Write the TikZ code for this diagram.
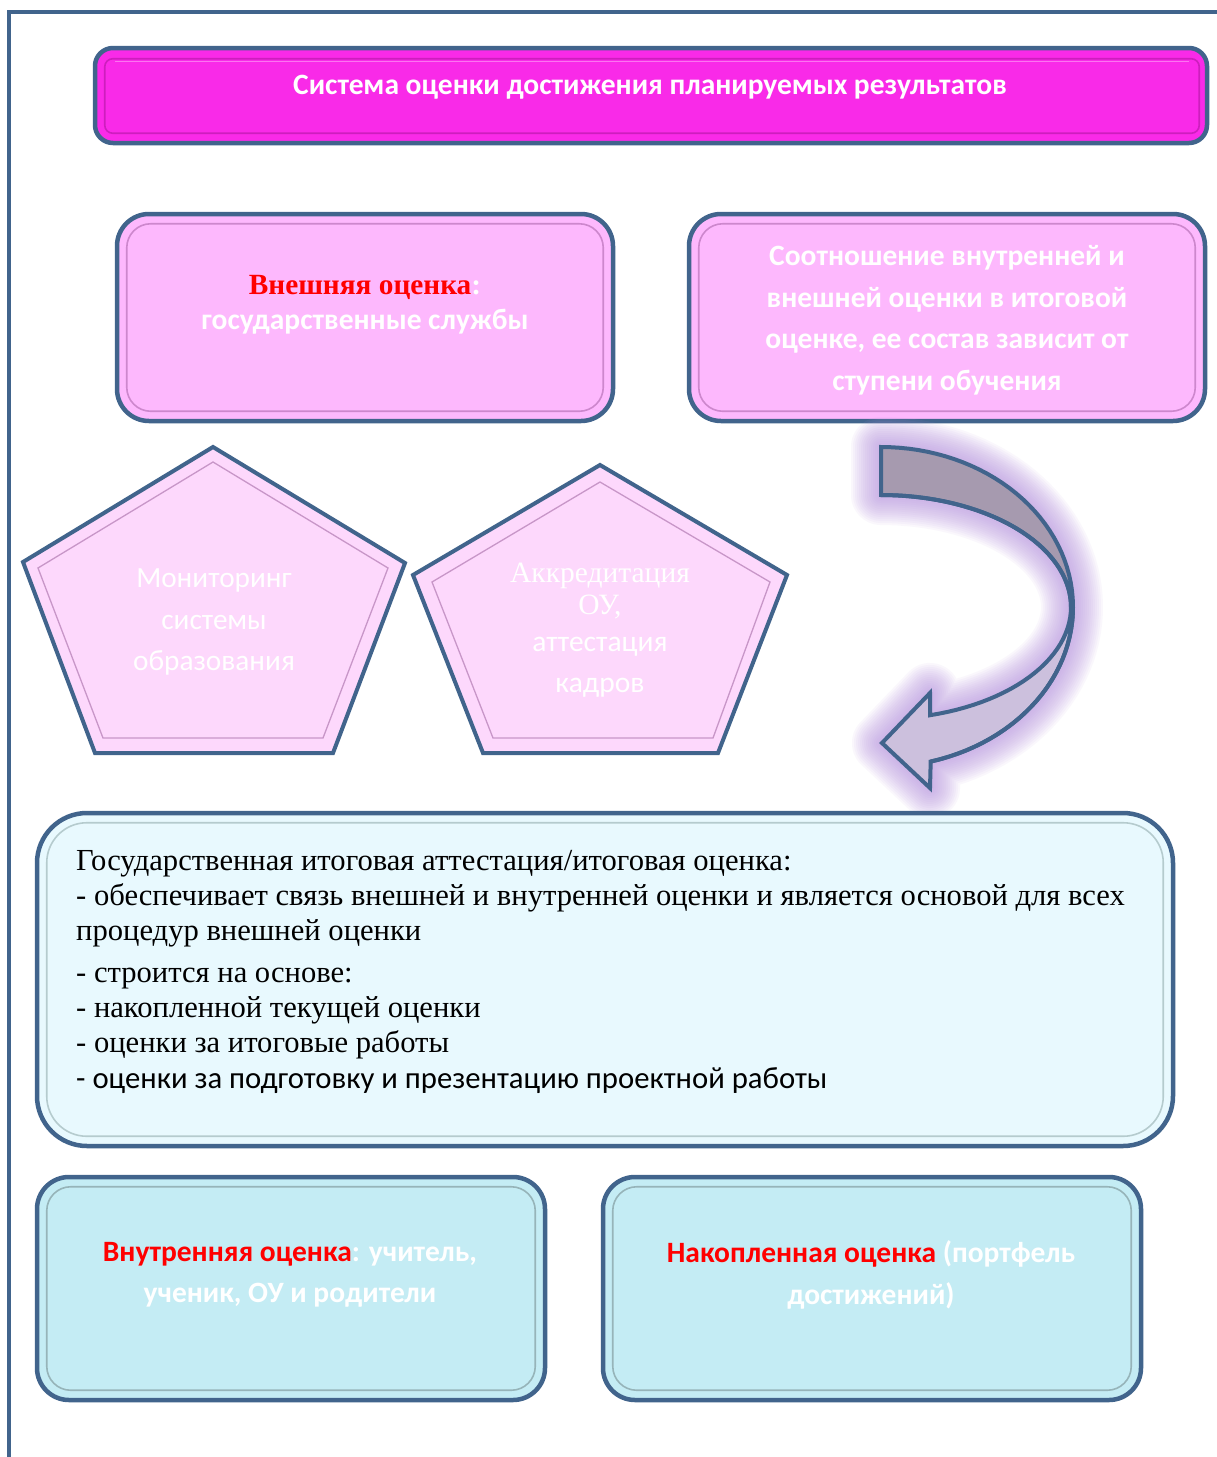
\documentclass[tikz,border=0pt]{standalone}
\usepackage{fontspec}
\setmainfont{Liberation Serif}
\newfontfamily\calfont{Carlito}
\newfontfamily\tmsfont{Liberation Serif}
\definecolor{frameblue}{RGB}{65,100,140}
\definecolor{magentabox}{RGB}{249,42,232}
\definecolor{magentadark}{RGB}{205,30,190}
\definecolor{pinkbox}{RGB}{253,184,253}
\definecolor{pinkdark}{RGB}{205,135,205}
\definecolor{pentfill}{RGB}{253,216,252}
\definecolor{pentdark}{RGB}{200,150,200}
\definecolor{lightcyan}{RGB}{232,249,254}
\definecolor{cyanbox}{RGB}{196,236,244}
\definecolor{cyandark}{RGB}{150,180,185}
\definecolor{arrowtop}{RGB}{166,154,175}
\definecolor{arrowbot}{RGB}{204,192,221}
\definecolor{glowc}{RGB}{185,150,225}
\definecolor{redtxt}{RGB}{255,0,0}
\begin{document}
\begin{tikzpicture}[x=1pt,y=-1pt,
  rbox/.style={draw=frameblue, line width=4.5pt, inner sep=0pt},
  bevel/.style={line width=1.6pt},
  pent/.style={draw=frameblue, line width=4pt, fill=pentfill, line join=miter},
  wtxt/.style={text=white, inner sep=0pt},
  boldcal/.style={font=\calfont\bfseries\fontsize{29.5}{41.5}\selectfont},
  bodytxt/.style={anchor=base west, inner sep=0pt, text=black, font=\tmsfont\fontsize{30.6}{34}\selectfont}
]
\useasboundingbox (0,0) rectangle (1217,1457);
\fill[white] (0,0) rectangle (1217,1457);
% page frame
\draw[frameblue, line width=3.2pt] (9,1457) -- (9,12) -- (1217,12);

% title
\node[rbox, fill=magentabox, rounded corners=18pt, minimum width=1112pt, minimum height=95pt] (title) at (651,95.5) {};
\draw[bevel, draw=magentadark, rounded corners=8pt] ([shift={(12,13)}]title.north west) rectangle ([shift={(-10,-12)}]title.south east);
\draw[white, opacity=0.35, line width=1.2pt] ([shift={(22,16)}]title.north west) -- ([shift={(-20,16)}]title.north east);
\node[wtxt, boldcal] (titleT) at (650,87) {Система оценки достижения планируемых результатов};

% external assessment box
\node[rbox, fill=pinkbox, rounded corners=32pt, minimum width=496pt, minimum height=207pt] (ext) at (365,317.5) {};
\draw[bevel, draw=pinkdark, rounded corners=24pt] ([shift={(12,12)}]ext.north west) rectangle ([shift={(-12,-12)}]ext.south east);
\node[wtxt, align=center, font=\calfont\bfseries\fontsize{29.5}{35}\selectfont] (extT) at (365,305)
  {{\tmsfont\fontsize{29.3}{35}\selectfont\color{redtxt}Внешняя оценка}{\tmsfont\fontsize{29.3}{35}\selectfont:}\\государственные службы};

% ratio box
\node[rbox, fill=pinkbox, rounded corners=32pt, minimum width=516pt, minimum height=207pt] (ratio) at (947,317.5) {};
\draw[bevel, draw=pinkdark, rounded corners=24pt] ([shift={(12,12)}]ratio.north west) rectangle ([shift={(-12,-12)}]ratio.south east);
\node[wtxt, align=center, boldcal] (ratioT) at (947,320)
  {Соотношение внутренней и\\внешней оценки в итоговой\\оценке, ее состав зависит от\\ступени обучения};

% pentagon 1
\draw[pent] (213,447) -- (405,563) -- (333,753) -- (95,753) -- (23,562) -- cycle;
\draw[bevel, draw=pentdark, line width=1.3pt] (213,462) -- (388,568) -- (323,738) -- (103,738) -- (38,568) -- cycle;
\node[wtxt, align=center, font=\calfont\fontsize{29.3}{41.5}\selectfont] (monT) at (214,622)
  {Мониторинг\\системы\\образования};

% pentagon 2
\draw[pent] (600,465) -- (787,575) -- (718,753) -- (483,753) -- (413,575) -- cycle;
\draw[bevel, draw=pentdark, line width=1.3pt] (600,482) -- (770,582) -- (713,738) -- (493,738) -- (432,582) -- cycle;
\node[wtxt, anchor=base, font=\tmsfont\fontsize{29.5}{30}\selectfont] (akk1) at (600,582) {Аккредитация};
\node[wtxt, anchor=base, font=\tmsfont\fontsize{29.5}{30}\selectfont] (akk2) at (600,614) {ОУ,};
\node[wtxt, anchor=base, font=\calfont\fontsize{29.5}{30}\selectfont] (akk3) at (600,651) {аттестация};
\node[wtxt, anchor=base, font=\calfont\fontsize{29.5}{30}\selectfont] (akk4) at (600,692) {кадров};

% curved arrow with glow
\def\arrowpath{(881,447) -- plot[domain=90:-75, samples=60, variable=\t] ({881+192*cos(\t)},{607-160*sin(\t)})
  -- (930,788) -- (882,743) -- (930,693)
  -- plot[domain=-75:90, samples=60, variable=\t] ({881+190*cos(\t)},{607-112*sin(\t)}) -- cycle}
\foreach \w in {60,56,...,4}{
  \draw[glowc, opacity=0.07, line width=\w pt, line join=round] \arrowpath;
}
\fill[arrowtop] (881,447) -- plot[domain=90:0, samples=40, variable=\t] ({881+192*cos(\t)},{607-160*sin(\t)})
  -- plot[domain=0:90, samples=40, variable=\t] ({881+190*cos(\t)},{607-112*sin(\t)}) -- cycle;
\fill[arrowbot] (1073,607) -- plot[domain=0:-75, samples=40, variable=\t] ({881+192*cos(\t)},{607-160*sin(\t)})
  -- (930,788) -- (882,743) -- (930,693)
  -- plot[domain=-75:0, samples=40, variable=\t] ({881+190*cos(\t)},{607-112*sin(\t)}) -- cycle;
\draw[frameblue, line width=4pt, line join=miter] \arrowpath;
\draw[frameblue, line width=4pt] plot[domain=0:90, samples=40, variable=\t] ({881+190*cos(\t)},{607-112*sin(\t)});
\draw[frameblue, line width=4pt] plot[domain=0:-75, samples=40, variable=\t] ({881+192*cos(\t)},{607-160*sin(\t)});

% final attestation box
\node[rbox, fill=lightcyan, rounded corners=50pt, minimum width=1136pt, minimum height=333pt] (gia) at (605,979.5) {};
\draw[bevel, draw=cyandark!70, rounded corners=40pt] ([shift={(12,12)}]gia.north west) rectangle ([shift={(-12,-12)}]gia.south east);
\node[bodytxt] (g1) at (76,870) {Государственная итоговая аттестация/итоговая оценка:};
\node[bodytxt] (g2) at (76,905) {- обеспечивает связь внешней и внутренней оценки и является основой для всех};
\node[bodytxt] (g3) at (76,940) {процедур внешней оценки};
\node[bodytxt] (g4) at (76,982) {- строится на основе:};
\node[bodytxt] (g5) at (76,1017) {- накопленной текущей оценки};
\node[bodytxt] (g6) at (76,1052) {- оценки за итоговые работы};
\node[bodytxt, font=\calfont\fontsize{30.7}{34}\selectfont] (g7) at (76,1088) {- оценки за подготовку и презентацию проектной работы};

% internal assessment box
\node[rbox, fill=cyanbox, rounded corners=32pt, minimum width=508pt, minimum height=223pt] (intb) at (291,1288.5) {};
\draw[bevel, draw=cyandark, rounded corners=24pt] ([shift={(12,12)}]intb.north west) rectangle ([shift={(-12,-12)}]intb.south east);
\node[wtxt, align=center, boldcal] (intT) at (290,1275)
  {{\color{redtxt}Внутренняя оценка}: учитель,\\ученик, ОУ и родители};

% accumulated assessment box
\node[rbox, fill=cyanbox, rounded corners=32pt, minimum width=538pt, minimum height=223pt] (accb) at (872,1288.5) {};
\draw[bevel, draw=cyandark, rounded corners=24pt] ([shift={(12,12)}]accb.north west) rectangle ([shift={(-12,-12)}]accb.south east);
\node[wtxt, align=center, boldcal] (accT) at (871,1275)
  {{\color{redtxt}Накопленная оценка} (портфель\\достижений)};
\end{tikzpicture}
\end{document}
